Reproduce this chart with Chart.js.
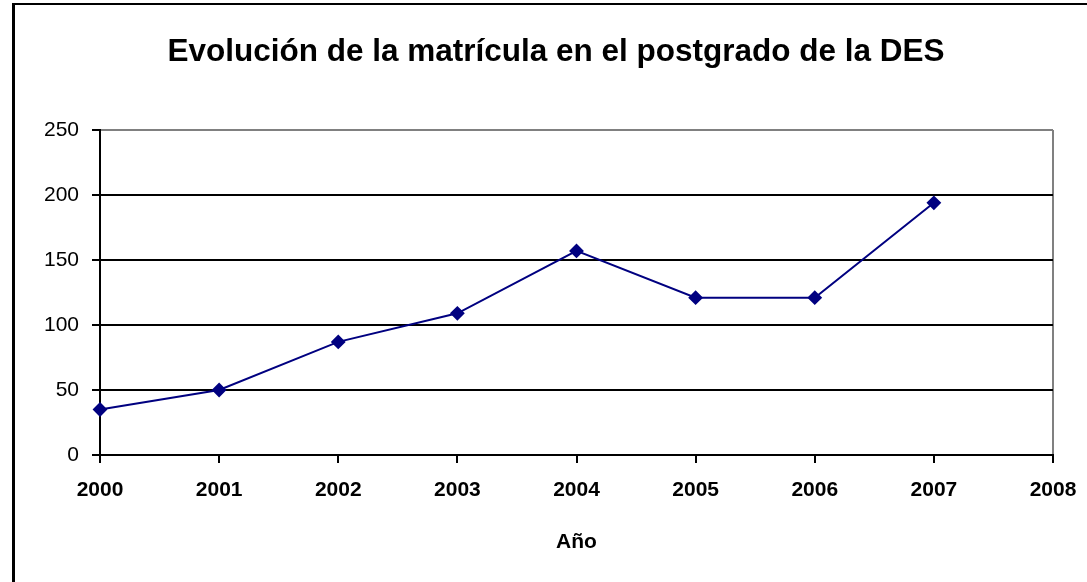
<!DOCTYPE html>
<html>
<head>
<meta charset="utf-8">
<script src="https://cdn.jsdelivr.net/npm/chart.js@4"></script>
<style>
  html, body { margin: 0; padding: 0; background: #fff; }
  #marco { position: absolute; left: 0; top: 0; width: 1087px; height: 582px; }
  #borde { position: absolute; left: 12px; top: 3px; right: 0; bottom: 0;
           border-top: 2px solid #000; border-left: 3px solid #000; pointer-events: none; }
</style>
</head>
<body>
<div id="marco">
  <canvas id="grafica" width="1087" height="582"></canvas>
  <div id="borde"></div>
</div>
<script>
// datos
const anios = ['2000', '2001', '2002', '2003', '2004', '2005', '2006', '2007', '2008'];
const matricula = [35, 50, 87, 109, 157, 121, 121, 194, null];
const ticksY = [0, 50, 100, 150, 200, 250];

const fuente = "'Liberation Sans', Arial, sans-serif";

const ctx = document.getElementById('grafica').getContext('2d');
new Chart(ctx, {
    type: 'line',
    data: {
        labels: anios,
        datasets: [{
            label: 'Matrícula',
            data: matricula,
            yAxisID: 'y',
            borderColor: '#000080',
            backgroundColor: '#000080',
            borderWidth: 2,
            pointStyle: 'rectRot',
            pointRadius: 6,
            pointHoverRadius: 6,
            tension: 0
        }]
    },
    options: {
        responsive: false,
        animation: false,
        // padding izquierdo para que el titulo quede centrado como en el original
        layout: { padding: { left: 25, right: 0, top: 0, bottom: 0 } },
        plugins: {
            legend: { display: false },
            tooltip: { enabled: false },
            title: {
                display: true,
                text: 'Evolución de la matrícula en el postgrado de la DES',
                color: '#000',
                font: { family: fuente, size: 31.5, weight: 'bold' },
                padding: { top: 33, bottom: 59.2 }
            }
        },
        scales: {
            x: {
                offset: false,
                afterFit: s => { s.height = 127; },
                grid: {
                    drawOnChartArea: true,
                    color: c => c.index === anios.length - 1 ? '#808080' : 'rgba(0,0,0,0)',
                    lineWidth: 2,
                    tickColor: '#000',
                    tickLength: 8
                },
                border: { color: '#000', width: 2 },
                // lineHeight alto para bajar las etiquetas sin agrandar el margen derecho
                ticks: { color: '#000', padding: 6, maxRotation: 0, autoSkip: false,
                         font: { family: fuente, size: 21, weight: 'bold', lineHeight: '42px' } },
                title: { display: true, text: 'Año', color: '#000',
                         font: { family: fuente, size: 21, weight: 'bold' },
                         padding: { top: 0, bottom: 27 } }
            },
            y: {
                min: 0,
                max: 250,
                afterFit: s => { s.width = 75; },
                afterBuildTicks: s => { s.ticks = ticksY.map(v => ({ value: v })); },
                grid: {
                    color: c => c.tick && c.tick.value === 250 ? '#808080' : '#000',
                    lineWidth: 2,
                    tickColor: '#000',
                    tickLength: 8
                },
                border: { color: '#000', width: 2 },
                ticks: { color: '#000', padding: 13,
                         font: { family: fuente, size: 21 } }
            },
            // eje vacio a la derecha, solo reserva el margen
            margen: {
                type: 'linear',
                position: 'right',
                afterFit: s => { s.width = 34; },
                grid: { drawOnChartArea: false, drawTicks: false },
                border: { display: false },
                ticks: { display: false }
            }
        }
    }
});
</script>
</body>
</html>
